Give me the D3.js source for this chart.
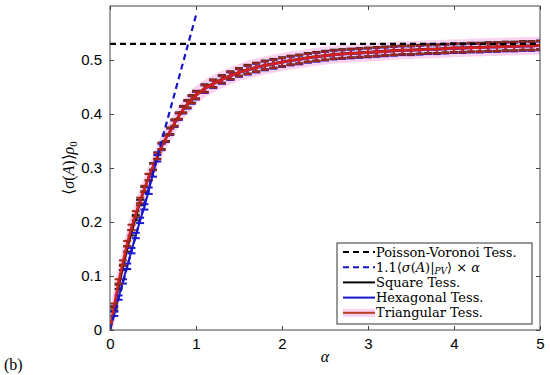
<!DOCTYPE html>
<html><head><meta charset="utf-8">
<script src="https://cdn.jsdelivr.net/npm/d3@7"></script>
<style>body{margin:0;background:#fff}svg{display:block}</style>
</head><body>
<svg id="chart" width="550" height="375"></svg>
<script>
// ---- data ----
const alpha = [0,0.05,0.1,0.15,0.2,0.25,0.3,0.35,0.4,0.45,0.5,0.55,0.6,0.65,0.7,0.75,0.8,0.85,0.9,0.95,1.0,
  1.1,1.2,1.3,1.4,1.5,1.6,1.7,1.8,1.9,2.0,2.1,2.2,2.3,2.4,2.5,2.6,2.7,2.8,2.9,3.0,
  3.1,3.2,3.3,3.4,3.5,3.6,3.7,3.8,3.9,4.0,4.1,4.2,4.3,4.4,4.5,4.6,4.7,4.8,4.9,5.0];
const squareTess = [0,0.040,0.080,0.115,0.150,0.180,0.208,0.236,0.260,0.283,0.303,0.323,0.341,0.356,0.369,0.384,0.397,0.409,0.419,0.428,0.436,
  0.448,0.457,0.465,0.472,0.478,0.483,0.487,0.491,0.494,0.497,0.500,0.502,0.505,0.507,0.509,0.511,0.512,0.513,0.514,0.515,
  0.516,0.517,0.518,0.519,0.519,0.520,0.521,0.521,0.522,0.523,0.523,0.524,0.524,0.525,0.525,0.526,0.526,0.527,0.527,0.528];
const hexTess = [0,0.030,0.060,0.090,0.118,0.147,0.175,0.203,0.228,0.258,0.290,0.318,0.339,0.354,0.367,0.382,0.395,0.407,0.417,0.426,0.434,
  0.446,0.455,0.463,0.470,0.476,0.481,0.485,0.489,0.492,0.495,0.498,0.500,0.503,0.505,0.507,0.509,0.510,0.511,0.512,0.513,
  0.514,0.515,0.516,0.517,0.517,0.518,0.519,0.519,0.520,0.521,0.521,0.522,0.522,0.523,0.523,0.524,0.524,0.525,0.525,0.526];
const triTess = [0,0.045,0.090,0.125,0.160,0.190,0.215,0.240,0.262,0.283,0.302,0.322,0.340,0.355,0.368,0.383,0.396,0.408,0.418,0.427,0.435,
  0.447,0.456,0.464,0.471,0.477,0.482,0.486,0.490,0.493,0.496,0.499,0.501,0.504,0.506,0.508,0.510,0.511,0.512,0.513,0.514,
  0.515,0.516,0.517,0.518,0.518,0.519,0.520,0.520,0.521,0.522,0.522,0.523,0.523,0.524,0.524,0.525,0.525,0.526,0.526,0.527];
const errors = [0,0.004,0.004,0.004,0.005,0.005,0.005,0.005,0.005,0.006,0.006,0.006,0.006,0.006,0.006,0.006,0.006,0.006,0.007,0.007,0.007,
  0.007,0.007,0.007,0.007,0.007,0.008,0.008,0.008,0.008,0.008,0.008,0.008,0.008,0.008,0.008,0.008,0.008,0.008,0.008,0.008,
  0.008,0.008,0.008,0.008,0.008,0.008,0.008,0.008,0.008,0.008,0.008,0.008,0.008,0.008,0.008,0.008,0.008,0.008,0.008,0.008];
const pvLevel = 0.53;           // Poisson-Voronoi mean
const linearAlpha = [0, 1];     // range of 1.1<sigma>_PV * alpha line
const linearVals = [0, 0.583];
const xTicks = [0,1,2,3,4,5];
const yTicks = [0,0.1,0.2,0.3,0.4,0.5];

// ---- layout ----
const svg = d3.select("#chart");
const m = {l:110, r:10, t:6, b:45};
const W = 550, H = 375;
const x = d3.scaleLinear().domain([0,5]).range([m.l, W - m.r]);
const y = d3.scaleLinear().domain([0,0.6]).range([H - m.b, m.t]);

const plot = svg.append("g");
svg.append("clipPath").attr("id","clp").append("rect")
  .attr("x", x(0)).attr("y", y(0.6)).attr("width", x(5)-x(0)).attr("height", y(0)-y(0.6));
const inner = plot.append("g").attr("clip-path","url(#clp)");

// pink shading band around triangular
const band = d3.area().x((d,i)=>x(alpha[i]))
  .y0((d,i)=>y(triTess[i]-errors[i]-0.004)).y1((d,i)=>y(triTess[i]+errors[i]+0.004));
inner.append("path").datum(triTess).attr("d", band).attr("fill","#fbd3f0").attr("stroke","#fbd3f0").attr("stroke-width",5);

const line = d3.line().x((d,i)=>x(alpha[i])).y(d=>y(d));

function series(vals, color, capColor, w, capW){
  const g = inner.append("g");
  g.append("path").datum(vals).attr("d", line).attr("fill","none").attr("stroke",color).attr("stroke-width",w);
  vals.forEach((v,i)=>{
    if (i===0) return;
    const cx = x(alpha[i]), e = errors[i];
    g.append("line").attr("x1",cx).attr("x2",cx).attr("y1",y(v-e)).attr("y2",y(v+e))
      .attr("stroke",color).attr("stroke-width",1.8);
    [v-e, v+e].forEach(t=>{
      g.append("line").attr("x1",cx-capW).attr("x2",cx+capW).attr("y1",y(t)).attr("y2",y(t))
        .attr("stroke",capColor).attr("stroke-width",2);
    });
  });
}
series(squareTess, "#111", "#222", 2, 4);
series(hexTess, "#1a1ad0", "#1a1ad0", 2, 4);
series(triTess, "#d42020", "#a02818", 2.6, 4);

// dashed reference lines
inner.append("line").attr("x1",x(0)).attr("x2",x(5)).attr("y1",y(pvLevel)).attr("y2",y(pvLevel))
  .attr("stroke","#000").attr("stroke-width",2.2).attr("stroke-dasharray","6,4");
inner.append("line").attr("x1",x(linearAlpha[0])).attr("x2",x(linearAlpha[1]))
  .attr("y1",y(linearVals[0])).attr("y2",y(linearVals[1]))
  .attr("stroke","#1515c8").attr("stroke-width",2.2).attr("stroke-dasharray","6,4");

// frame
plot.append("rect").attr("x",x(0)).attr("y",y(0.6)).attr("width",x(5)-x(0)).attr("height",y(0)-y(0.6))
  .attr("fill","none").attr("stroke","#444").attr("stroke-width",1);

// axes with inward ticks
const axB = d3.axisBottom(x).tickValues(xTicks).tickSize(-4).tickPadding(8).tickFormat(d3.format("d"));
const axT = d3.axisTop(x).tickValues(xTicks).tickSize(-4).tickFormat("");
const axL = d3.axisLeft(y).tickValues(yTicks).tickSize(-4).tickPadding(8).tickFormat(d=>d===0?"0":d3.format(".1f")(d));
const axR = d3.axisRight(y).tickValues(yTicks).tickSize(-4).tickFormat("");
[[axB,`translate(0,${y(0)})`],[axT,`translate(0,${y(0.6)})`],[axL,`translate(${x(0)},0)`],[axR,`translate(${x(5)},0)`]]
.forEach(([a,t])=>{
  const g = plot.append("g").attr("transform",t).call(a);
  g.select(".domain").remove();
  g.selectAll(".tick line").attr("stroke","#444");
  g.selectAll("text").attr("font-family","Liberation Sans, Arial, sans-serif").attr("font-size",15).attr("fill","#000");
});

// axis labels
svg.append("text").attr("x",325).attr("y",362).attr("text-anchor","middle")
  .attr("font-family","Liberation Serif, serif").attr("font-style","italic").attr("font-size",16).text("α");
const yl = svg.append("text").attr("transform","translate(74,168) rotate(-90)").attr("text-anchor","middle")
  .attr("font-family","Liberation Serif, serif").attr("font-size",16);
yl.append("tspan").text("⟨");
yl.append("tspan").attr("font-style","italic").text("σ");
yl.append("tspan").text("(");
yl.append("tspan").attr("font-style","italic").text("A");
yl.append("tspan").text(")⟩");
yl.append("tspan").attr("font-style","italic").text("ρ");
yl.append("tspan").attr("font-size",11).attr("dy",3).text("0");
svg.append("text").attr("x",4).attr("y",370).attr("font-family","Liberation Serif, serif").attr("font-size",16).text("(b)");

// legend
const lg = svg.append("g");
lg.append("rect").attr("x",337).attr("y",243).attr("width",195).attr("height",81)
  .attr("fill","#fff").attr("stroke","#333").attr("stroke-width",1);
const items = [
  {c:"#000", dash:"6,4", parts:[["Poisson-Voronoi Tess.",null]]},
  {c:"#1515c8", dash:"6,4", parts:[["1.1⟨",null],["σ","i"],["(",null],["A","i"],[")|",null],["PV","sub"],["⟩ × ",null],["α","i"]]},
  {c:"#000", dash:null, parts:[["Square Tess.",null]]},
  {c:"#1515c8", dash:null, parts:[["Hexagonal Tess.",null]]},
  {c:"#b83a22", dash:null, band:true, parts:[["Triangular Tess.",null]]}
];
items.forEach((it,i)=>{
  const cy = 252 + i*15.2;
  if (it.band) lg.append("rect").attr("x",343).attr("y",cy-4).attr("width",32).attr("height",8).attr("fill","#fbd3f0");
  lg.append("line").attr("x1",343).attr("x2",375).attr("y1",cy).attr("y2",cy)
    .attr("stroke",it.c).attr("stroke-width",2).attr("stroke-dasharray",it.dash);
  const t = lg.append("text").attr("x",376).attr("y",cy+4.5).attr("font-family","DejaVu Serif, serif").attr("font-size",13);
  let sub = false;
  it.parts.forEach(([s,st])=>{
    const sp = t.append("tspan").text(s);
    if (st==="i") sp.attr("font-style","italic");
    if (st==="sub") { sp.attr("font-style","italic").attr("font-size",9).attr("dy",2); sub = true; }
    else if (sub) { sp.attr("dy",-2); sub = false; }
  });
});
</script>
</body></html>
